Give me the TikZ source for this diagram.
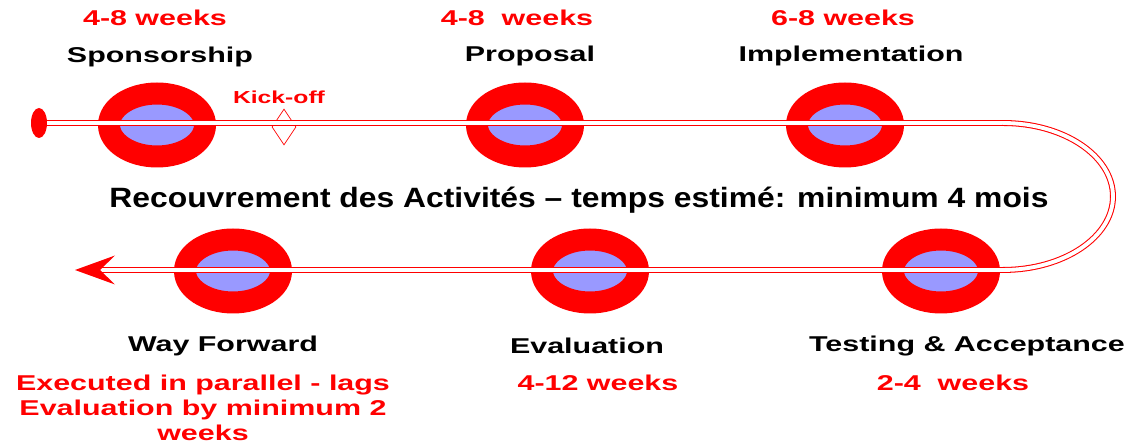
\documentclass[tikz,border=0pt]{standalone}
\usepackage{fontspec}
\setmainfont{Liberation Sans}
\newfontfamily\widefont{Liberation Sans}[FakeStretch=1.42]
\newfontfamily\summaryfont{Liberation Sans}[FakeStretch=1.14]
\usetikzlibrary{shapes.geometric}
\definecolor{xred}{HTML}{FF0000}
\definecolor{xblue}{HTML}{9999FF}
\tikzset{
	stage/.style={ellipse, draw=xred, fill=xblue, line width=0.44cm, minimum width=1.92cm, minimum height=1.26cm, inner sep=0pt},
	track/.style={draw=xred, double=white, line width=0.6pt, double distance=1.8pt},
	bendtrack/.style={draw=xred, double=white, line width=0.6pt, double distance=2.2pt},
	title/.style={font=\widefont\bfseries\fontsize{12.2}{14.2}\selectfont, text=black},
	weeks/.style={font=\widefont\bfseries\fontsize{12.2}{14.2}\selectfont, text=xred},
}

\begin{document}
\begin{tikzpicture}[x=0.02cm, y=-0.02cm]
	\useasboundingbox (0,0) rectangle (1132,445);
	% top row
	\node[stage] (sponsor) at (157,125) {};
	\node[stage] (proposal) at (525,125) {};
	\node[stage] (impl) at (845,125) {};
	% bottom row
	\node[stage] (wayfwd) at (233,271) {};
	\node[stage] (eval) at (590,271) {};
	\node[stage] (testing) at (941,271) {};

	\node[ellipse, fill=xred, minimum width=0.32cm, minimum height=0.6cm, inner sep=0pt] (start) at (39,123) {};
	\node[diamond, draw=xred, minimum width=0.48cm, minimum height=0.72cm, inner sep=0pt] (kickoff) at (284,127) {};
	\coordinate (topend) at (1003,123);
	\coordinate (botend) at (1003,270);
	\coordinate (tip) at (75,270);
	\coordinate (tail) at (100,270);

	% track
	\draw[track] (start.east) -- (topend);
	\draw[bendtrack] (topend) arc[start angle=90, end angle=-90, x radius=2.2cm, y radius=1.47cm];
	\draw[track] (botend) -- (tail);
	\fill[xred] (tip) -- ++(40,-14.5) -- (tail) -- ++(15,14.5) -- cycle;

	% labels
	\node[weeks] (sponsorwk) at (155,18) {4-8 weeks};
	\node[title] (sponsorlbl) at (160,57) {Sponsorship};
	\node[weeks] (proposalwk) at (517,18) {4-8\ \ weeks};
	\node[title] (proposallbl) at (530,56) {Proposal};
	\node[weeks] (implwk) at (843,18) {6-8 weeks};
	\node[title] (impllbl) at (851,56) {Implementation};
	\node[font=\widefont\bfseries\fontsize{9.9}{12}\selectfont, text=xred] (kicklbl) at (279,97) {Kick-off};

	\node[font=\summaryfont\bfseries\fontsize{15.9}{19}\selectfont] (summary) at (579,200) {Recouvrement des Activités – temps estimé: minimum 4 mois};

	\node[title] (wayfwdlbl) at (223,346) {Way Forward};
	\node[title] (evallbl) at (587,346) {Evaluation};
	\node[title] (testinglbl) at (967,346) {Testing \& Acceptance};
	\node[weeks, align=center] (wayfwdwk) at (203,408) {Executed in parallel - lags\\Evaluation by minimum 2\\weeks};
	\node[weeks] (evalwk) at (598,383) {4-12 weeks};
	\node[weeks] (testingwk) at (953,383) {2-4\ \ weeks};
\end{tikzpicture}
\end{document}
